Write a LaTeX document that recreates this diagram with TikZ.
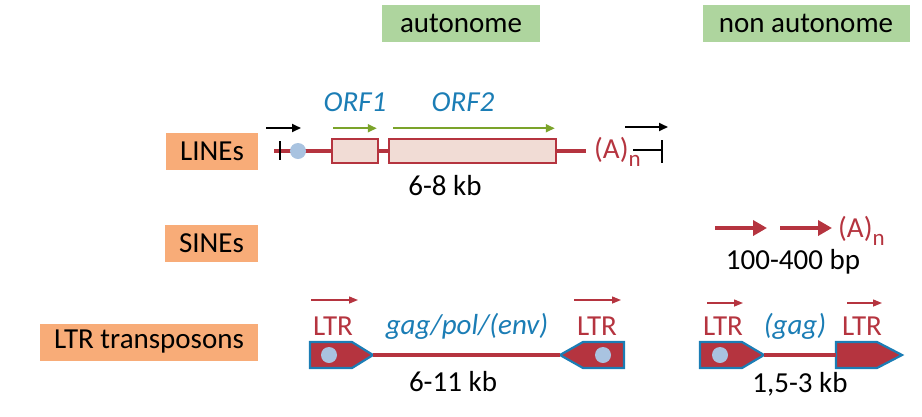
\documentclass[tikz,border=0pt]{standalone}
\usepackage{fontspec}
\setmainfont{Carlito}
\usetikzlibrary{arrows.meta}

\definecolor{elred}{HTML}{B5343F}
\definecolor{elblue}{HTML}{1B7DB5}
\definecolor{dotblue}{HTML}{A9C3E0}
\definecolor{catgreen}{HTML}{AED59E}
\definecolor{famorange}{HTML}{F8AC78}
\definecolor{orfgreen}{HTML}{7BA32A}
\definecolor{orffill}{HTML}{F1DCD5}

\newcommand{\txt}{\fontsize{29}{33}\selectfont}
\newcommand{\polyA}{(A)\raisebox{-8pt}{\fontsize{23}{25}\selectfont n}}

\tikzset{
  cat/.style={fill=catgreen, minimum height=37pt, inner sep=0pt, font=\txt},
  fam/.style={fill=famorange, minimum height=37pt, inner sep=0pt, font=\txt},
  gene/.style={draw=elred, line width=4pt},
  orf/.style={draw=elred, fill=orffill, line width=1.5pt, minimum height=24pt, inner sep=0pt},
  orflbl/.style={text=elblue, font=\txt\itshape},
  size/.style={font=\txt},
  polya/.style={text=elred, font=\txt, inner sep=0pt},
  orfarrow/.style={draw=orfgreen, line width=1.8pt, -{Triangle[length=9pt,width=8pt]}},
  tsarrow/.style={draw=black, line width=1.8pt, -{Triangle[length=9pt,width=8pt]}},
  sinearrow/.style={draw=elred, line width=4.5pt, -{Triangle[length=14pt,width=15pt]}},
  ltrarrow/.style={draw=elred, line width=1.4pt, -{Triangle[length=9pt,width=7pt]}},
  ltrbox/.style={draw=elblue, fill=elred, line width=2.2pt, line join=miter},
  ltrlbl/.style={text=elred, font=\txt},
  dot/.style={fill=dotblue}
}

\begin{document}
\begin{tikzpicture}[x=1pt,y=-1pt]
\useasboundingbox (0,0) rectangle (922,416);

% classes
\node[cat, minimum width=158pt] (auto) at (461,23) {autonome};
\node[cat, minimum width=207pt] (nonauto) at (806,23) {non autonome};

% families
\node[fam, minimum width=92pt] (lines) at (212,151.5) {LINEs};
\node[fam, minimum width=93pt] (sines) at (211.5,243.5) {SINEs};
\node[fam, minimum width=218pt] (ltrs) at (149,342) {LTR transposons};

% LINEs
\coordinate (l5) at (274,151);
\coordinate (l3) at (586,151);
\node[orf, minimum width=46pt] (orf1) at (355,151) {};
\node[orf, minimum width=167pt] (orf2) at (472.5,151) {};
\draw[gene] (l5) -- (orf1.west);
\draw[gene] (orf1.east) -- (orf2.west);
\draw[gene] (orf2.east) -- (l3);
\draw[line width=1.5pt] (280,141) -- (280,160);
\fill[dot] (298,151) circle (8pt);
\draw[orfarrow] ([shift={(2,-10)}]orf1.north west) -- ([shift={(-2,-10)}]orf1.north east);
\draw[orfarrow] ([shift={(5,-10)}]orf2.north west) -- ([shift={(-2,-10)}]orf2.north east);
\node[orflbl] (orf1lbl) at (355,102) {ORF1};
\node[orflbl] (orf2lbl) at (463,102) {ORF2};
\node[polya, anchor=west] (pa1) at (594,152) {\polyA};
\coordinate (t0) at (633,150);
\coordinate (t1) at (662,150);
\draw[line width=1.8pt] (t0) -- (t1);
\draw[line width=1.8pt] (662,140) -- (662,163);
\draw[tsarrow] (266,128) -- (301,128);
\draw[tsarrow] (625,127) -- (668,127);
\node[size] (linesize) at (445,186) {6-8 kb};

% SINEs
\coordinate (s0) at (715,228);
\coordinate (s1) at (767,228);
\coordinate (s2) at (780,228);
\coordinate (s3) at (832,228);
\draw[sinearrow] (s0) -- (s1);
\draw[sinearrow] (s2) -- (s3);
\node[polya, anchor=west] (pa2) at (838,231) {\polyA};
\node[size] (sinesize) at (793,262) {100-400 bp};

% LTR transposons, autonome
\filldraw[ltrbox] (310,342) -- (352,342) -- (373,355) -- (352,368) -- (310,368) -- cycle;
\filldraw[ltrbox] (624,342) -- (583,342) -- (560,355) -- (583,368) -- (624,368) -- cycle;
\coordinate (a5) at (373,355);
\coordinate (a3) at (560,355);
\draw[gene] (a5) -- (a3);
\fill[dot] (329,355) circle (8pt);
\fill[dot] (603,355) circle (8pt);
\node[ltrlbl] (ltra) at (333,326) {LTR};
\node[ltrlbl] (ltrb) at (597,326) {LTR};
\draw[ltrarrow] (311,300) -- (358,300);
\draw[ltrarrow] (574,300) -- (621,300);
\node[orflbl] (gagpol) at (467,326) {gag/pol/(env)};
\node[size] (ltrsize) at (453,382) {6-11 kb};

% LTR transposons, non autonome
\filldraw[ltrbox] (700,342) -- (742,342) -- (764,355) -- (742,368) -- (700,368) -- cycle;
\filldraw[ltrbox] (836,342) -- (877,342) -- (902,355) -- (877,368) -- (836,368) -- cycle;
\coordinate (b5) at (764,355);
\coordinate (b3) at (836,355);
\draw[gene] (b5) -- (b3);
\fill[dot] (720,355) circle (8pt);
\node[ltrlbl] (ltrc) at (723,326) {LTR};
\node[ltrlbl] (ltrd) at (862,326) {LTR};
\draw[ltrarrow] (707,303) -- (743,303);
\draw[ltrarrow] (847,303) -- (882,303);
\node[orflbl] (gag) at (795,326) {(gag)};
\node[size] (miniSize) at (800,384) {1,5-3 kb};
\end{tikzpicture}
\end{document}
